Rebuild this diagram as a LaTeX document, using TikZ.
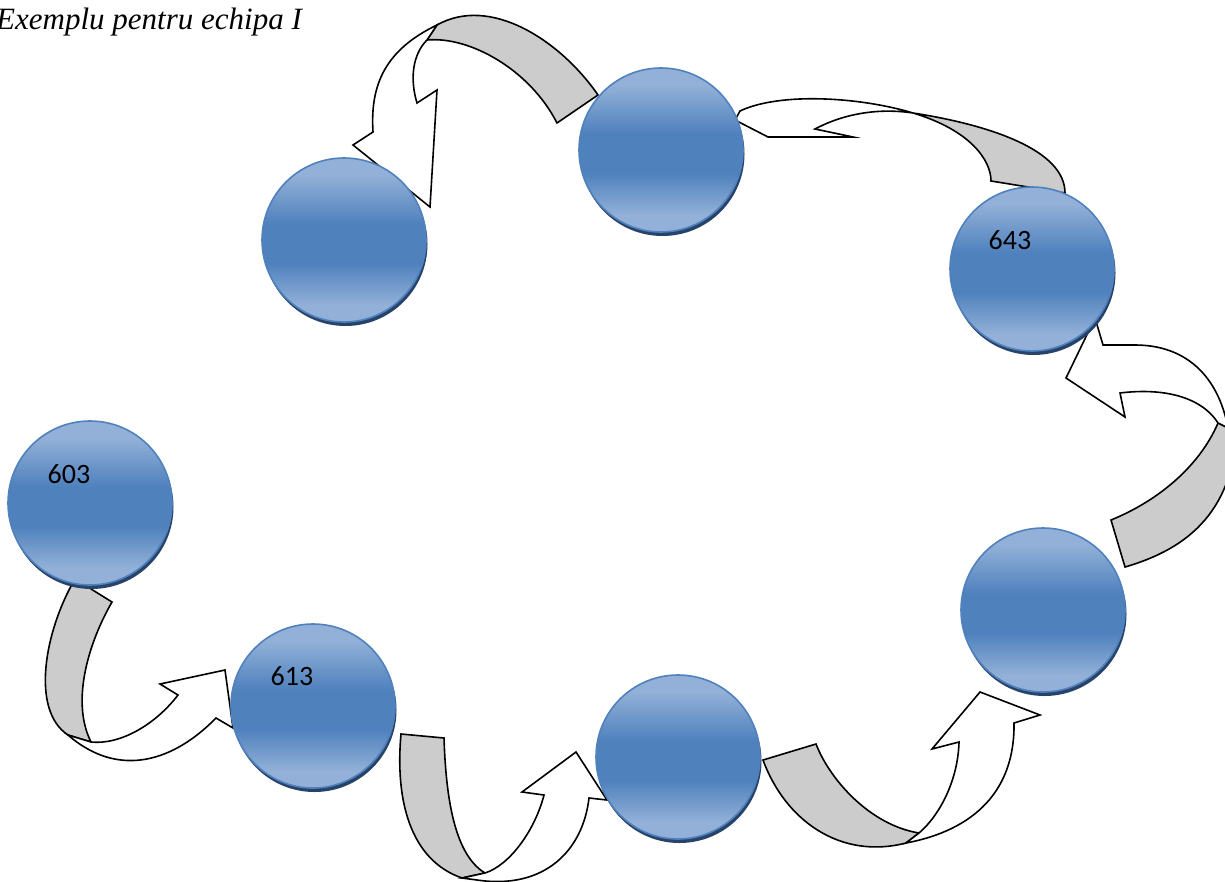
\documentclass[tikz,border=0pt]{standalone}
\usepackage{fontspec}
\setmainfont{Liberation Serif}
\newfontfamily\lblfont{Carlito}
\usetikzlibrary{shadows}
\definecolor{bL}{HTML}{93B1D8}
\definecolor{bD}{HTML}{4F81BD}
\definecolor{ballrim}{HTML}{4F81BD}
\definecolor{ballshadow}{HTML}{27436A}
\definecolor{ribbon}{HTML}{CCCCCC}
\pgfdeclareverticalshading{ballv}{100bp}{color(0bp)=(bL); color(25bp)=(bL); color(30bp)=(bL); color(43bp)=(bD); color(55bp)=(bD); color(70bp)=(bL); color(75bp)=(bL); color(100bp)=(bL)}
\tikzset{
  ball/.style={circle, inner sep=0pt, minimum size=164pt, draw=ballrim, line width=1.6pt,
    shading=ballv, drop shadow={shadow xshift=1.5pt, shadow yshift=-4pt, fill=ballshadow, opacity=1}},
  num/.style={font=\lblfont\fontsize{28}{30}\selectfont, inner sep=0pt},
  backside/.style={draw=black, line width=1.6pt, fill=ribbon, line join=miter},
  frontside/.style={draw=black, line width=1.6pt, fill=white, line join=miter},
}
\begin{document}
\begin{tikzpicture}[x=1pt,y=-1pt]
\useasboundingbox (0,0) rectangle (1225,881);
\fill[white] (0,0) rectangle (1225,881);

% title
\node[anchor=base west, inner sep=0pt, font=\itshape\fontsize{31}{33}\selectfont] (title) at (-4,29) {Exemplu pentru echipa I};

% arrow A: 603 -> 613
\draw[backside] (75,579) -- (112,602) .. controls (90,640) and (70,700) .. (91,742) -- (68,735) .. controls (30,710) and (45,630) .. (75,579) -- cycle;
\draw[frontside] (91,742) .. controls (120,745) and (155,725) .. (178,695) -- (160,684) -- (225,670) -- (233,728) -- (216,718) .. controls (175,760) and (120,780) .. (68,735) -- cycle;

% arrow B: 613 -> bottom middle
\draw[backside] (401,734) -- (444,738) .. controls (446,800) and (455,855) .. (485,873) -- (462,878) .. controls (410,860) and (395,800) .. (401,734) -- cycle;
\draw[frontside] (485,873) .. controls (510,865) and (535,830) .. (544,795) -- (522,792) -- (576,752) -- (607,800) -- (589,798) .. controls (583,850) and (545,890) .. (477,880) -- (462,878) -- cycle;

% arrow C: bottom middle -> right lower
\draw[backside] (763,760) -- (816,744) .. controls (830,780) and (870,825) .. (919,833) -- (906,843) .. controls (840,860) and (785,820) .. (763,760) -- cycle;
\draw[frontside] (919,833) .. controls (940,815) and (958,780) .. (959,742) -- (932,749) -- (980,692) -- (1040,715) -- (1014,723) .. controls (1015,790) and (975,830) .. (906,843) -- cycle;

% arrow D: right lower -> 643
\draw[backside] (1111,520) -- (1125,567) .. controls (1190,548) and (1235,510) .. (1238,420) -- (1218,423) .. controls (1200,465) and (1160,500) .. (1111,520) -- cycle;
\draw[frontside] (1218,423) .. controls (1200,395) and (1160,388) .. (1120,393) -- (1125,417) -- (1066,378) -- (1095,318) -- (1103,345) -- (1135,345) .. controls (1185,345) and (1218,375) .. (1228,428) -- cycle;

% arrow E: 643 -> top middle
\draw[backside] (913,113) .. controls (990,125) and (1065,150) .. (1065,193) -- (991,181) .. controls (991,160) and (970,130) .. (913,113) -- cycle;
\draw[frontside] (913,113) .. controls (860,97) and (780,92) .. (740,111) -- (735,120) -- (768,137) -- (853,137) -- (815,129) .. controls (845,113) and (880,108) .. (913,113) -- cycle;

% arrow F: top middle -> top left
\draw[backside] (557,123) -- (598,95) .. controls (560,40) and (490,-5) .. (437,25) -- (427,40) .. controls (470,36) and (530,70) .. (557,123) -- cycle;
\draw[frontside] (427,40) .. controls (412,55) and (410,80) .. (417,103) -- (437,90) -- (430,207) -- (353,145) -- (373,132) .. controls (370,85) and (385,50) .. (437,25) -- cycle;

% circles
\node[ball] (c603) at (90,503) {};
\node[ball] (c613) at (313,706) {};
\node[ball] (cbm) at (678,757) {};
\node[ball] (crl) at (1043,610) {};
\node[ball] (c643) at (1032,269) {};
\node[ball] (ctm) at (661,150) {};
\node[ball] (ctl) at (344,240) {};

% labels
\node[num] (l603) at (69,474) {603};
\node[num] (l613) at (292,676) {613};
\node[num] (l643) at (1010,240) {643};
\end{tikzpicture}
\end{document}
